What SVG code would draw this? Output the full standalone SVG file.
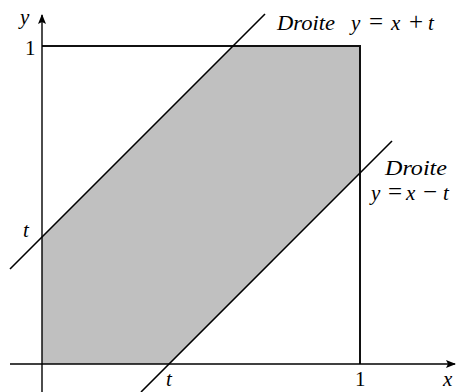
<svg xmlns="http://www.w3.org/2000/svg" width="459" height="392" viewBox="0 0 459 392">
<style>
.ax{stroke:#000;stroke-width:1.4;fill:none}
.sq{stroke:#111;stroke-width:2;fill:none}
.ln{stroke:#000;stroke-width:1.6;fill:none}
.it{font-family:"Liberation Serif","DejaVu Serif",serif;font-style:italic;font-size:21px;fill:#000}
.rm{font-family:"Liberation Serif","DejaVu Serif",serif;font-style:normal;font-size:21px;fill:#000}
.op{font-family:"Liberation Serif","DejaVu Serif",serif;font-style:normal;font-size:25px;fill:#000}
</style>
<defs>
<marker id="arr" viewBox="0 0 10 8" refX="9" refY="4" markerWidth="10" markerHeight="8" markerUnits="userSpaceOnUse" orient="auto">
<path d="M0,0 L10,4 L0,8 L2,4 Z" fill="#000"/>
</marker>
</defs>
<rect width="459" height="392" fill="#fff"/>
<g id="region">
<polygon points="42,364 169,364 360,173 360,46 233,46 42,237" fill="#c0c0c0"/>
</g>
<g id="square">
<polyline class="sq" points="42,46 360,46 360,364"/>
</g>
<g id="connectors">
<line id="x-axis" class="ax" x1="10" y1="364" x2="455" y2="364" marker-end="url(#arr)"/>
<line id="y-axis" class="ax" x1="42" y1="392" x2="42" y2="15" marker-end="url(#arr)"/>
<line id="line-plus" class="ln" x1="10" y1="269" x2="265" y2="14"/>
<line id="line-minus" class="ln" x1="141" y1="392" x2="392" y2="141"/>
</g>
<g id="labels">
<text class="it" x="20" y="24">y</text>
<text class="rm" x="25" y="55">1</text>
<text class="it" x="23" y="237">t</text>
<text class="it" x="166" y="386">t</text>
<text class="rm" x="355" y="386">1</text>
<text class="it" x="443" y="386">x</text>
<text class="it" x="277" y="30" textLength="58" lengthAdjust="spacingAndGlyphs">Droite</text>
<text class="it" y="30"><tspan x="351">y</tspan><tspan class="op" x="369">=</tspan><tspan x="391">x</tspan><tspan class="op" x="409">+</tspan><tspan x="428">t</tspan></text>
<text class="it" x="385" y="175" textLength="62" lengthAdjust="spacingAndGlyphs">Droite</text>
<text class="it" y="200"><tspan x="371">y</tspan><tspan class="op" x="388">=</tspan><tspan x="406">x</tspan><tspan class="op" x="423">−</tspan><tspan x="443">t</tspan></text>
</g>
</svg>
